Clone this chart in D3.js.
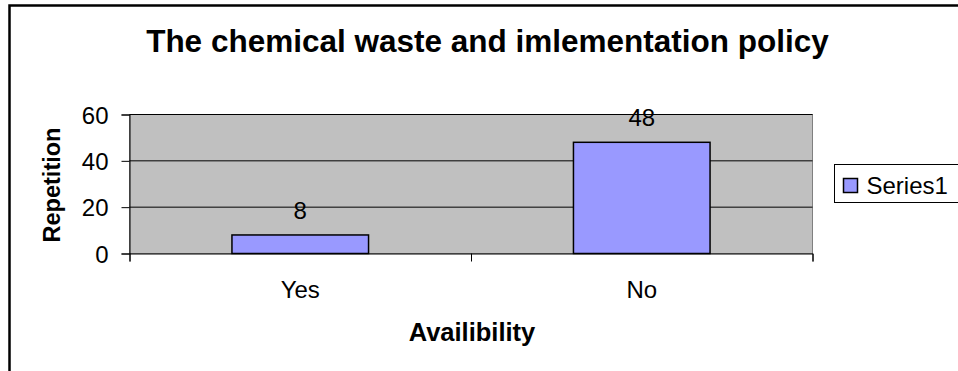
<!DOCTYPE html>
<html>
<head>
<meta charset="utf-8">
<script src="https://cdn.jsdelivr.net/npm/d3@7"></script>
<style>
  html, body { margin: 0; padding: 0; background: #fff; }
  svg { display: block; }
  text { font-family: Arial, "Liberation Sans", sans-serif; fill: #000; }
</style>
</head>
<body>
<svg id="chart" width="958" height="371"></svg>
<script>
const categories = ["Yes", "No"];
const values = [8, 48];
const yTicks = [0, 20, 40, 60];
const seriesName = "Series1";
const titleText = "The chemical waste and imlementation policy";
const xTitle = "Availibility";
const yTitle = "Repetition";

(function () {
const svg = d3.select("#chart");
const pLeft = 129.5, pRight = 812.5, pTop = 114.5, pBottom = 253.5;

// outer frame (only left and top visible)
svg.append("path")
  .attr("d", "M9.5,375 V5.5 H965")
  .attr("fill", "none").attr("stroke", "#000").attr("stroke-width", 2.5);

const x = d3.scaleBand().domain(categories).range([pLeft, pRight])
  .paddingInner(0.6).paddingOuter(0.3);
const xEdge = d3.scaleLinear().domain([0, categories.length]).range([pLeft, pRight]);
const y = d3.scaleLinear().domain([0, 60]).range([pBottom, pTop]);

// plot area
svg.append("rect")
  .attr("x", pLeft).attr("y", pTop)
  .attr("width", pRight - pLeft).attr("height", pBottom - pTop)
  .attr("fill", "#c0c0c0").attr("stroke", "#808080").attr("stroke-width", 1);

// gridlines
svg.append("g").selectAll("line")
  .data(yTicks.filter(d => d > 0))
  .join("line")
  .attr("x1", pLeft).attr("x2", pRight)
  .attr("y1", d => y(d)).attr("y2", d => y(d))
  .attr("stroke", "#000").attr("stroke-width", 1);

// bars
svg.append("g").selectAll("rect")
  .data(values)
  .join("rect")
  .attr("x", (d, i) => x(categories[i]))
  .attr("y", d => y(d))
  .attr("width", x.bandwidth())
  .attr("height", d => y(0) - y(d))
  .attr("fill", "#9999ff").attr("stroke", "#000").attr("stroke-width", 1.5);

// data labels
svg.append("g").selectAll("text")
  .data(values)
  .join("text")
  .attr("x", (d, i) => x(categories[i]) + x.bandwidth() / 2)
  .attr("y", d => y(d) - 16)
  .attr("text-anchor", "middle")
  .attr("font-size", 24)
  .text(d => d);

// y axis
const yAxis = svg.append("g")
  .attr("transform", `translate(${pLeft},0)`)
  .call(d3.axisLeft(y).tickValues(yTicks).tickSize(8).tickPadding(13));
yAxis.select(".domain").attr("stroke", "#000");
yAxis.selectAll(".tick line").attr("stroke", "#000");
yAxis.selectAll("text").attr("font-size", 24)
  .attr("font-family", "Arial, 'Liberation Sans', sans-serif").attr("dy", "0.36em");

// x axis
const xAxis = svg.append("g")
  .attr("transform", `translate(0,${pBottom})`)
  .call(d3.axisBottom(xEdge).tickValues(d3.range(categories.length + 1)).tickSize(8).tickFormat(""));
xAxis.select(".domain").attr("stroke", "#000");
xAxis.selectAll(".tick line").attr("stroke", "#000");

// x category labels
svg.append("g").selectAll("text")
  .data(categories)
  .join("text")
  .attr("x", d => x(d) + x.bandwidth() / 2)
  .attr("y", 298)
  .attr("text-anchor", "middle")
  .attr("font-size", 24)
  .text(d => d);

// titles
svg.append("text")
  .attr("x", 487.5).attr("y", 51.5)
  .attr("text-anchor", "middle")
  .attr("font-size", 31.5).attr("font-weight", "bold")
  .text(titleText);

svg.append("text")
  .attr("x", 472).attr("y", 341)
  .attr("text-anchor", "middle")
  .attr("font-size", 25.5).attr("font-weight", "bold")
  .text(xTitle);

svg.append("text")
  .attr("transform", "translate(59.5,185) rotate(-90)")
  .attr("text-anchor", "middle")
  .attr("font-size", 23.5).attr("font-weight", "bold")
  .text(yTitle);

// legend
const lg = svg.append("g");
lg.append("rect")
  .attr("x", 834.5).attr("y", 164.5).attr("width", 200).attr("height", 38)
  .attr("fill", "#fff").attr("stroke", "#000").attr("stroke-width", 1);
lg.append("rect")
  .attr("x", 843.5).attr("y", 178.5).attr("width", 14).attr("height", 14)
  .attr("fill", "#9999ff").attr("stroke", "#000").attr("stroke-width", 1.5);
lg.append("text")
  .attr("x", 866.5).attr("y", 194)
  .attr("font-size", 24)
  .text(seriesName);
})();
</script>
</body>
</html>
